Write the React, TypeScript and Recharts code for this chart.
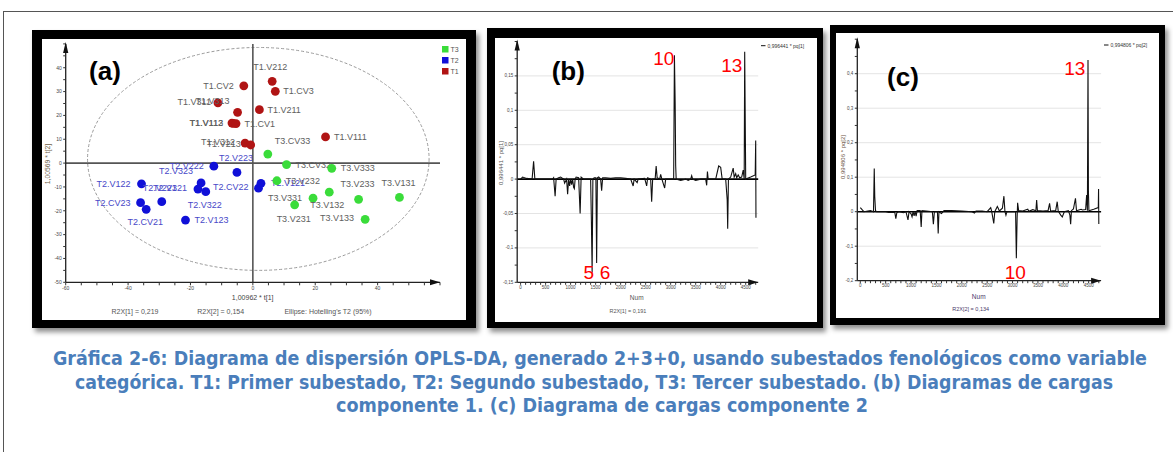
import React from 'react';
import {
  ScatterChart, Scatter, XAxis, YAxis, ReferenceLine, ReferenceArea, ReferenceDot,
  LineChart, Line,
} from 'recharts';

// ---------- Panel (a): OPLS-DA score scatter ----------
const t1Names = ['T1.V212', 'T1.CV3', 'T1.CV2', 'T1.V311', 'T1.V313', 'T1.V211', 'T1.V112', 'T1.V113', 'T1.CV1', 'T1.V111', 'T1.V312', 'T1.V213'];
const t1X = [6.2, 7.2, -2.9, -11.2, -4.9, 2.1, -6.7, -6.3, -5.4, 23.3, -2.5, -0.7];
const t1Y = [34.3, 30.1, 32.4, 25.3, 21.3, 22.4, 16.8, 16.7, 16.6, 11.0, 8.4, 7.6];

const t2Names = ['T2.V222', 'T2.V223', 'T2.V323', 'T2.V122', 'T2.V321', 'T2.V221', 'T2.V322', 'T2.CV22', 'T2.V121', 'T2.CV23', 'T2.CV21', 'T2.V123'];
const t2X = [-12.5, -5.1, -16.6, -35.7, -17.6, -29.2, -15.1, 1.8, 2.6, -36.0, -34.2, -21.6];
const t2Y = [-1.3, -3.9, -8.3, -8.7, -10.9, -16.2, -12.0, -10.5, -8.5, -16.6, -19.4, -23.9];

const t3Names = ['T3.CV33', 'T3.CV32', 'T3.V333', 'T3.V232', 'T3.V233', 'T3.V131', 'T3.V331', 'T3.V132', 'T3.V231', 'T3.V133'];
const t3X = [4.8, 10.8, 25.3, 7.7, 33.9, 47.0, 19.3, 24.5, 13.4, 36.0];
const t3Y = [3.8, -0.6, -2.2, -7.4, -15.2, -14.4, -14.7, -12.2, -17.5, -23.6];

const ellipseX = [-53, 56.5];
const ellipseY = [-45, 48.5];

const scoreXTicks = [-60, -55, -50, -45, -40, -35, -30, -25, -20, -15, -10, -5, 0, 5, 10, 15, 20, 25, 30, 35, 40, 45, 50, 55, 60];
const scoreYTicks = [-50, -45, -40, -35, -30, -25, -20, -15, -10, -5, 0, 5, 10, 15, 20, 25, 30, 35, 40, 45, 50];

// ---------- Panel (b): loadings pq[1] ----------
const pq1Num = [0, 40, 120, 230, 260, 285, 300, 560, 640, 660, 690, 710, 760, 800, 860, 880, 920, 940, 960, 980, 1000, 1020, 1040, 1060, 1075, 1090, 1110, 1160, 1190, 1210, 1260, 1400, 1415, 1430, 1445, 1470, 1505, 1520, 1535, 1560, 1600, 1620, 1640, 1700, 1800, 1900, 2000, 2100, 2200, 2250, 2270, 2330, 2350, 2480, 2520, 2540, 2600, 2620, 2640, 2690, 2710, 2730, 2780, 2800, 2820, 2880, 2900, 3060, 3075, 3090, 3100, 3110, 3200, 3300, 3350, 3400, 3420, 3440, 3500, 3600, 3700, 3720, 3735, 3750, 3900, 3960, 4000, 4030, 4100, 4130, 4140, 4155, 4200, 4250, 4270, 4300, 4320, 4350, 4380, 4420, 4450, 4470, 4480, 4490, 4500, 4600, 4690, 4700, 4705];
const pq1Val = [0, 0.003, 0.001, 0, 0.026, 0, 0, 0, 0, 0.002, -0.025, 0, 0.002, 0.003, 0, -0.006, 0, -0.022, 0, -0.01, 0, -0.008, 0, -0.012, -0.014, 0, 0.003, 0.002, -0.05, 0.003, 0, 0, -0.06, -0.136, 0, 0.002, 0.002, -0.122, 0.002, 0.003, 0, -0.017, 0.002, 0.002, 0.001, 0.002, 0.002, 0.001, 0, -0.01, 0, -0.005, 0, 0.001, -0.01, 0.002, 0, -0.033, 0, 0, 0.019, 0.002, 0, 0.007, 0.001, -0.013, 0, 0, 0.18, 0.11, 0.02, 0, -0.002, 0, -0.002, 0, 0.005, 0, -0.002, 0, 0, -0.009, 0.011, 0, 0, 0.019, 0.017, 0, 0, -0.03, -0.072, 0, 0.003, 0.016, 0.003, 0.008, 0.002, 0.006, 0.002, 0.003, 0.013, 0, 0.185, 0.094, 0, 0.003, 0.006, 0.056, -0.056];

// ---------- Panel (c): loadings pq[2] ----------
const pq2Num = [0, 40, 70, 200, 260, 275, 285, 300, 320, 500, 560, 680, 700, 720, 760, 850, 900, 940, 960, 1000, 1020, 1040, 1060, 1080, 1100, 1120, 1180, 1200, 1215, 1300, 1420, 1440, 1460, 1520, 1535, 1550, 1600, 1650, 1800, 2000, 2200, 2250, 2280, 2400, 2500, 2570, 2590, 2630, 2650, 2700, 2720, 2740, 2800, 2830, 2850, 2870, 2890, 3060, 3075, 3090, 3100, 3120, 3200, 3300, 3320, 3400, 3460, 3475, 3490, 3600, 3700, 3730, 3750, 3850, 3880, 3900, 3950, 3980, 4020, 4100, 4130, 4145, 4160, 4200, 4240, 4260, 4350, 4380, 4440, 4460, 4475, 4487, 4495, 4505, 4600, 4690, 4695, 4700];
const pq2Val = [0.012, 0.005, 0, 0.003, 0, 0.125, 0.044, 0.003, 0, 0, -0.002, -0.002, -0.02, -0.003, 0, -0.003, 0, -0.024, 0, -0.006, -0.015, 0, -0.012, 0, -0.013, 0.003, 0.003, -0.044, 0.003, 0.002, 0, -0.036, 0, 0, -0.063, 0, -0.005, 0.003, 0.003, 0.002, 0, -0.004, 0.002, 0.002, 0, 0.012, 0, -0.034, 0, 0.015, 0.009, 0.002, 0.01, 0.045, 0.001, -0.01, 0, 0, -0.135, -0.02, 0.026, 0.003, 0.002, 0.007, 0.001, 0.006, 0.003, 0.034, 0.003, 0.002, 0.003, 0.024, 0.002, 0.003, 0.029, 0.002, -0.01, -0.015, 0, 0.003, -0.01, -0.036, 0.003, 0.008, 0.039, 0.003, 0.007, 0.005, 0.006, 0.048, 0.003, 0.44, 0.06, 0.003, 0.007, 0.012, 0.066, -0.036];

const pq1YTicks = [-0.15, -0.125, -0.1, -0.075, -0.05, -0.025, 0, 0.025, 0.05, 0.075, 0.1, 0.125, 0.15, 0.175, 0.2];
const pq1YLabels = ['-0,15', '', '-0,1', '', '-0,05', '', '0', '', '0,05', '', '0,1', '', '0,15', '', ''];
const pq2YTicks = [-0.2, -0.15, -0.1, -0.05, 0, 0.05, 0.1, 0.15, 0.2, 0.25, 0.3, 0.35, 0.4, 0.45, 0.5];
const pq2YLabels = ['-0,2', '', '-0,1', '', '0', '', '0,1', '', '0,2', '', '0,3', '', '0,4', '', ''];
const numTicks = Array.from({ length: 48 }, (_, i) => i * 100);

// ---------- label placement (style, kept apart from data) ----------
type LP = { a: 'start' | 'end' | 'middle'; dx: number; dy: number };
const LABEL_POS: Record<string, LP> = {
  'T1.V212': { a: 'middle', dx: -2, dy: -14 },
  'T1.CV3': { a: 'start', dx: 8, dy: 0 },
  'T1.CV2': { a: 'end', dx: -10, dy: 0 },
  'T1.V311': { a: 'end', dx: -7, dy: -1 },
  'T1.V313': { a: 'end', dx: -8, dy: -11 },
  'T1.V211': { a: 'start', dx: 8, dy: 0 },
  'T1.V112': { a: 'end', dx: -9, dy: 0 },
  'T1.V113': { a: 'end', dx: -10, dy: 0 },
  'T1.CV1': { a: 'start', dx: 8.5, dy: 0 },
  'T1.V111': { a: 'start', dx: 8.5, dy: 0 },
  'T1.V312': { a: 'end', dx: -10, dy: -1 },
  'T1.V213': { a: 'end', dx: -10, dy: -1 },
  'T2.V222': { a: 'end', dx: -10, dy: 0 },
  'T2.V223': { a: 'middle', dx: -1, dy: -14 },
  'T2.V323': { a: 'end', dx: -8, dy: -12 },
  'T2.V122': { a: 'end', dx: -11, dy: 0 },
  'T2.V321': { a: 'end', dx: -11, dy: -1 },
  'T2.V221': { a: 'middle', dx: -2, dy: -14 },
  'T2.V322': { a: 'middle', dx: -1, dy: 13 },
  'T2.CV22': { a: 'end', dx: -10, dy: -1 },
  'T2.V121': { a: 'start', dx: 10, dy: 0 },
  'T2.CV23': { a: 'end', dx: -10, dy: 0 },
  'T2.CV21': { a: 'middle', dx: -1, dy: 13 },
  'T2.V123': { a: 'start', dx: 9, dy: 0 },
  'T3.CV33': { a: 'start', dx: 7, dy: -13 },
  'T3.CV32': { a: 'start', dx: 9, dy: 0 },
  'T3.V333': { a: 'start', dx: 9, dy: 0 },
  'T3.V232': { a: 'start', dx: 9, dy: 0 },
  'T3.V233': { a: 'middle', dx: -1, dy: -15 },
  'T3.V131': { a: 'middle', dx: -1, dy: -14 },
  'T3.V331': { a: 'end', dx: -11, dy: 0 },
  'T3.V132': { a: 'middle', dx: -2, dy: 13 },
  'T3.V231': { a: 'middle', dx: -1, dy: 14 },
  'T3.V133': { a: 'end', dx: -11, dy: -1 },
};

const zip3 = (names: string[], xs: number[], ys: number[]) => names.map((n, i) => ({ name: n, x: xs[i], y: ys[i] }));
const t1Data = zip3(t1Names, t1X, t1Y);
const t2Data = zip3(t2Names, t2X, t2Y);
const t3Data = zip3(t3Names, t3X, t3Y);
const pq1Data = pq1Num.map((n, i) => ({ num: n, v: pq1Val[i] }));
const pq2Data = pq2Num.map((n, i) => ({ num: n, v: pq2Val[i] }));

const FONT = "'Liberation Sans', Arial, sans-serif";

const dotShape = (fill: string, labelFill: string) => (props: any) => {
  const { cx, cy, payload } = props;
  const p = LABEL_POS[payload.name] || { a: 'start', dx: 8, dy: 0 };
  return (
    <g>
      <circle cx={cx} cy={cy} r={4.4} fill={fill} />
      <text x={cx + p.dx} y={cy + p.dy} textAnchor={p.a} dominantBaseline="central" fontSize={9} fontFamily={FONT} fill={labelFill}>
        {payload.name}
      </text>
    </g>
  );
};

const upArrow = (props: any) => {
  const { cx, cy } = props;
  return <path d={`M${cx},${cy - 2} L${cx - 2.6},${cy + 9} L${cx + 2.6},${cy + 9} Z`} fill="#111" />;
};
const rightArrow = (props: any) => {
  const { cx, cy } = props;
  return <path d={`M${cx},${cy} L${cx - 10},${cy - 3} L${cx - 10},${cy + 3} Z`} fill="#111" />;
};
const ellipseShape = (props: any) => {
  const { x, y, width, height } = props;
  return (
    <ellipse cx={x + width / 2} cy={y + height / 2} rx={Math.abs(width) / 2} ry={Math.abs(height) / 2}
      fill="none" stroke="#9a9a9a" strokeWidth={1} strokeDasharray="3 2" />
  );
};

const tickStyle = { fontSize: 5, fill: '#444', fontFamily: FONT };
const tinyTick = { fontSize: 4.5, fill: '#444', fontFamily: FONT };

function ScorePlot() {
  return (
    <ScatterChart width={424} height={281} margin={{ top: 4.9, right: 26, bottom: 17.7, left: 3.7 }}>
      <XAxis type="number" dataKey="x" domain={[-60, 60]} ticks={scoreXTicks} interval={0} height={20}
        tickFormatter={(v: number) => (v % 20 === 0 && v !== 60 ? String(v) : '')}
        axisLine={{ stroke: '#222', strokeWidth: 1.3 }} tickLine={{ stroke: '#333' }} tickSize={3} tickMargin={1} tick={tickStyle} />
      <YAxis type="number" dataKey="y" domain={[-50, 50]} ticks={scoreYTicks} interval={0} width={20}
        tickFormatter={(v: number) => (v % 10 === 0 && v !== 50 ? String(v) : '')}
        axisLine={{ stroke: '#222', strokeWidth: 1.3 }} tickLine={{ stroke: '#333' }} tickSize={2.5} tickMargin={1.5} tick={tickStyle} />
      <ReferenceArea x1={ellipseX[0]} x2={ellipseX[1]} y1={ellipseY[0]} y2={ellipseY[1]} shape={ellipseShape} />
      <ReferenceLine x={0} stroke="#555" strokeWidth={1.6} />
      <ReferenceLine y={0} stroke="#555" strokeWidth={1.6} />
      <Scatter name="T1" data={t1Data} fill="#B01414" shape={dotShape('#B01414', '#5e5e5e')} isAnimationActive={false} />
      <Scatter name="T2" data={t2Data} fill="#1010D8" shape={dotShape('#1010D8', '#4848C8')} isAnimationActive={false} />
      <Scatter name="T3" data={t3Data} fill="#3ADC3A" shape={dotShape('#3ADC3A', '#5e5e5e')} isAnimationActive={false} />
      <ReferenceDot x={-60} y={50} r={3} shape={upArrow} />
      <ReferenceDot x={60} y={-50} r={3} shape={rightArrow} />
    </ScatterChart>
  );
}

function LoadingPlot(p: {
  data: { num: number; v: number }[]; w: number; h: number; margin: any; xDom: [number, number];
  yTicks: number[]; yLabels: string[]; grid: number[];
}) {
  const { data, w, h, margin, xDom, yTicks, yLabels, grid } = p;
  const yMin = yTicks[0];
  const yMax = yTicks[yTicks.length - 1];
  return (
    <LineChart width={w} height={h} data={data} margin={margin}>
      <XAxis type="number" dataKey="num" domain={xDom} allowDataOverflow ticks={numTicks} interval={0} height={16}
        tickFormatter={(v: number) => (v % 500 === 0 ? String(v) : '')}
        axisLine={{ stroke: '#222', strokeWidth: 1.3 }} tickLine={{ stroke: '#333' }} tickSize={2.5} tickMargin={1} tick={tinyTick} />
      <YAxis type="number" domain={[yMin, yMax]} allowDataOverflow ticks={yTicks} interval={0} width={18}
        tickFormatter={(v: number) => yLabels[yTicks.indexOf(v)] ?? ''}
        axisLine={{ stroke: '#222', strokeWidth: 1.3 }} tickLine={{ stroke: '#333' }} tickSize={2.5} tickMargin={1.5} tick={tinyTick} />
      {grid.map((g) => (
        <ReferenceLine key={g} y={g} stroke="#e4e4e4" strokeWidth={1} />
      ))}
      <ReferenceLine y={0} stroke="#000" strokeWidth={1.6} />
      <Line type="linear" dataKey="v" stroke="#111" strokeWidth={1.1} dot={false} isAnimationActive={false} />
      <ReferenceDot x={xDom[0]} y={yMax} r={3} shape={upArrow} />
      <ReferenceDot x={xDom[1]} y={yMin} r={3} shape={rightArrow} />
    </LineChart>
  );
}

const frame = (l: number, t: number, r: number, b: number): React.CSSProperties => ({
  position: 'absolute', left: l, top: t, width: r - l, height: b - t, background: '#000',
  boxShadow: '3px 4px 5px rgba(0,0,0,0.45)',
});
const inner = (l: number, t: number, r: number, b: number): React.CSSProperties => ({
  position: 'absolute', left: l, top: t, width: r - l, height: b - t, background: '#fff',
});

export default function App() {
  const txt = { fontFamily: FONT } as const;
  return (
    <div style={{ position: 'absolute', left: 0, top: 0, width: 1173, height: 452, background: '#fff', overflow: 'hidden' }}>
      <div style={{ position: 'absolute', left: 3, top: 11, width: 1200, height: 460, borderLeft: '1px solid #555', borderTop: '1px solid #555' }} />

      <div style={frame(32, 30, 476, 328)} />
      <div style={inner(42, 39, 466, 320)}><ScorePlot /></div>

      <div style={frame(487, 28, 823, 328)} />
      <div style={inner(495, 38, 817, 322)}>
        <LoadingPlot data={pq1Data} w={322} h={284} margin={{ top: 3.5, right: 58.8, bottom: 23.7, left: 4.2 }}
          xDom={[-68, 4750]} yTicks={pq1YTicks} yLabels={pq1YLabels} grid={[0.15, 0.1, 0.05, -0.05, -0.1]} />
      </div>

      <div style={frame(830, 25, 1165, 325)} />
      <div style={inner(836, 33, 1159, 318)}>
        <LoadingPlot data={pq2Data} w={323} h={285} margin={{ top: 6.2, right: 57.9, bottom: 21.3, left: 3.3 }}
          xDom={[-59, 4745]} yTicks={pq2YTicks} yLabels={pq2YLabels} grid={[0.4, 0.3, 0.2, 0.1, -0.1]} />
      </div>

      <svg width={1173} height={452} style={{ position: 'absolute', left: 0, top: 0, pointerEvents: 'none' }}>
        {/* panel a texts */}
        <text x={105} y={71} textAnchor="middle" dominantBaseline="central" fontSize={26} fontWeight="bold" {...txt} fill="#000">(a)</text>
        <rect x={442} y={46} width={6.5} height={6.5} fill="#3ADC3A" />
        <rect x={442} y={57} width={6.5} height={6.5} fill="#1010D8" />
        <rect x={442} y={68} width={6.5} height={6.5} fill="#B01414" />
        <text x={450.5} y={49.5} dominantBaseline="central" fontSize={7} {...txt} fill="#555">T3</text>
        <text x={450.5} y={60.5} dominantBaseline="central" fontSize={7} {...txt} fill="#555">T2</text>
        <text x={450.5} y={71.5} dominantBaseline="central" fontSize={7} {...txt} fill="#555">T1</text>
        <text x={252.7} y={297.7} textAnchor="middle" dominantBaseline="central" fontSize={7} {...txt} fill="#444">1,00962 * t[1]</text>
        <text x={47} y={164} textAnchor="middle" dominantBaseline="central" fontSize={6.8} {...txt} fill="#6e6048" transform="rotate(-90 47 164)">1,00569 * t[2]</text>
        <text x={135} y={311} textAnchor="middle" dominantBaseline="central" fontSize={7} {...txt} fill="#555">R2X[1] = 0,219</text>
        <text x={220.7} y={311} textAnchor="middle" dominantBaseline="central" fontSize={7} {...txt} fill="#555">R2X[2] = 0,154</text>
        <text x={328} y={311} textAnchor="middle" dominantBaseline="central" fontSize={7} {...txt} fill="#555">Ellipse: Hotelling's T2 (95%)</text>

        {/* panel b texts */}
        <text x={568.3} y={71} textAnchor="middle" dominantBaseline="central" fontSize={26} fontWeight="bold" {...txt} fill="#000">(b)</text>
        <line x1={761} y1={45.7} x2={765.5} y2={45.7} stroke="#111" strokeWidth={1} />
        <text x={767.5} y={45.7} dominantBaseline="central" fontSize={5} {...txt} fill="#333">0,996441 * pq[1]</text>
        <text x={500.5} y={163} textAnchor="middle" dominantBaseline="central" fontSize={6} {...txt} fill="#555" transform="rotate(-90 500.5 163)">0,996441 * pq[1]</text>
        <text x={636.7} y={297.7} textAnchor="middle" dominantBaseline="central" fontSize={6.5} {...txt} fill="#555">Num</text>
        <text x={628} y={311} textAnchor="middle" dominantBaseline="central" fontSize={5.5} {...txt} fill="#555">R2X[1] = 0,191</text>
        <text x={663.7} y={58} textAnchor="middle" dominantBaseline="central" fontSize={19} {...txt} fill="#FF0000">10</text>
        <text x={731.7} y={65} textAnchor="middle" dominantBaseline="central" fontSize={19} {...txt} fill="#FF0000">13</text>
        <text x={588.7} y={272.5} textAnchor="middle" dominantBaseline="central" fontSize={19} {...txt} fill="#FF0000">5</text>
        <text x={605} y={272.5} textAnchor="middle" dominantBaseline="central" fontSize={19} {...txt} fill="#FF0000">6</text>

        {/* panel c texts */}
        <text x={903} y={77.3} textAnchor="middle" dominantBaseline="central" fontSize={26} fontWeight="bold" {...txt} fill="#000">(c)</text>
        <line x1={1104} y1={45} x2={1108.5} y2={45} stroke="#111" strokeWidth={1} />
        <text x={1110.5} y={45} dominantBaseline="central" fontSize={5} {...txt} fill="#333">0,994806 * pq[2]</text>
        <text x={843} y={157} textAnchor="middle" dominantBaseline="central" fontSize={6} {...txt} fill="#6a5040" transform="rotate(-90 843 157)">0,994806 * pq[2]</text>
        <text x={978.7} y={296} textAnchor="middle" dominantBaseline="central" fontSize={6.5} {...txt} fill="#4a3a6a">Num</text>
        <text x={970.7} y={309} textAnchor="middle" dominantBaseline="central" fontSize={5.5} {...txt} fill="#4a3a6a">R2X[2] = 0,134</text>
        <text x={1074.7} y={68.3} textAnchor="middle" dominantBaseline="central" fontSize={19} {...txt} fill="#FF0000">13</text>
        <text x={1015.3} y={272} textAnchor="middle" dominantBaseline="central" fontSize={19} {...txt} fill="#FF0000">10</text>

        {/* caption */}
        <g fontFamily="'DejaVu Sans', sans-serif" fontStretch="condensed" fontWeight="bold" fontSize={19} fill="#4A7EBB">
          <text x={53} y={365} textLength={1094} lengthAdjust="spacingAndGlyphs">Gráfica 2-6: Diagrama de dispersión OPLS-DA, generado 2+3+0, usando subestados fenológicos como variable</text>
          <text x={75} y={389} textLength={1038} lengthAdjust="spacingAndGlyphs">categórica. T1: Primer subestado, T2: Segundo subestado, T3: Tercer subestado. (b) Diagramas de cargas</text>
          <text x={336} y={412} textLength={532} lengthAdjust="spacingAndGlyphs">componente 1. (c) Diagrama de cargas componente 2</text>
        </g>
      </svg>
    </div>
  );
}
